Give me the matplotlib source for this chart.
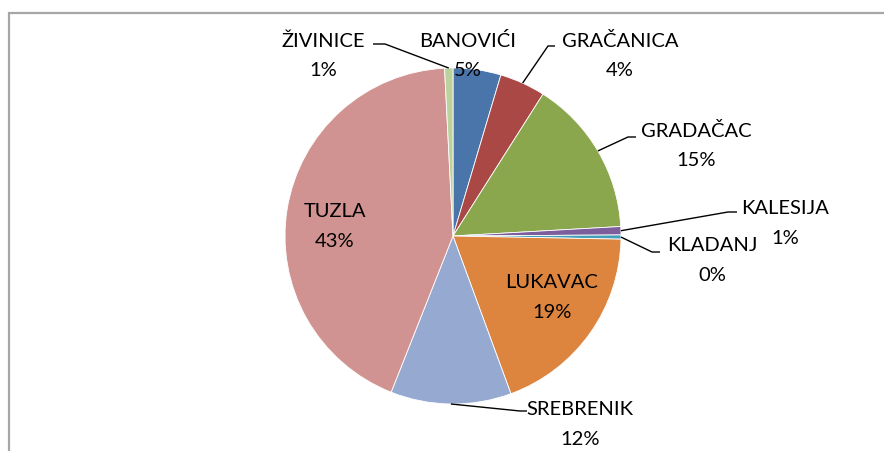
import numpy as np
import matplotlib
matplotlib.use("Agg")
import matplotlib.pyplot as plt
from matplotlib.patches import Rectangle

# values (share of total, %)
names = ["BANOVIĆI", "GRAČANICA", "GRADAČAC", "KALESIJA", "KLADANJ",
         "LUKAVAC", "SREBRENIK", "TUZLA", "ŽIVINICE"]
shares = [4.6, 4.4, 15.1, 0.8, 0.4, 19.1, 11.6, 43.2, 0.8]
colors = ["#4A75AB", "#A94845", "#8AA74E", "#7B5E9B", "#43A0BA",
          "#DD853E", "#95A9D1", "#D19391", "#BCD29C"]

W, H = 884, 452
CX, CY, R = 453, 237, 168   # pie centre / radius in pixels

# label layout in pixels: (name centre x, name centre y, elbow x, elbow y, horizontal end x)
layout = {
    "BANOVIĆI": (468, 41, None, None, None),
    "GRAČANICA": (620, 41, 548, 47, 555),
    "GRADAČAC": (696, 131, 628, 138, 636),
    "KALESIJA": (785, 209, 728, 213, 737),
    "KLADANJ": (712, 246, 652, 253, 660),
    "LUKAVAC": (552, 283, None, None, None),
    "SREBRENIK": (580, 410, 520, 412, 527),
    "TUZLA": (335, 212, None, None, None),
    "ŽIVINICE": (323, 41, 385, 45, 373),
}

plt.rcParams["font.family"] = ["Lato", "DejaVu Sans"]

fig = plt.figure(figsize=(W / 100, H / 100), dpi=100)
fig.patch.set_facecolor("white")

# chart-area border (right/bottom fall outside the picture)
fig.patches.append(Rectangle((8.5 / W, -0.2), 1.5, (H - 13.5) / H + 0.2,
                             transform=fig.transFigure, fill=False,
                             edgecolor="#A6A6A6", linewidth=1.6))

ax = fig.add_axes([(CX - R) / W, (H - CY - R) / H, 2 * R / W, 2 * R / H])

wedges, _ = ax.pie(shares, colors=colors, startangle=90, counterclock=False,
                   radius=1, wedgeprops=dict(linewidth=0.6, edgecolor="white"))
ax.set_xlim(-1, 1)
ax.set_ylim(-1, 1)
ax.axis("off")


def to_data(px, py):
    return (px - CX) / R, (CY - py) / R


fs = 14.5
for w, name, val in zip(wedges, names, shares):
    nx, ny, ex, ey, hx = layout[name]
    tx, ty = to_data(nx, ny)
    px, py = to_data(nx, ny + 30)
    ax.text(tx, ty, name, ha="center", va="center", fontsize=fs, clip_on=False)
    ax.text(px, py, f"{round(val):.0f}%", ha="center", va="center",
            fontsize=fs, clip_on=False)
    if ex is not None:
        mid = np.deg2rad((w.theta1 + w.theta2) / 2)
        sx, sy = np.cos(mid), np.sin(mid)
        x1, y1 = to_data(ex, ey)
        x2, _ = to_data(hx, ey)
        ax.plot([sx, x1, x2], [sy, y1, y1], color="black", lw=1.0,
                clip_on=False, solid_capstyle="butt")

fig.savefig("out.png", dpi=100, facecolor="white")
